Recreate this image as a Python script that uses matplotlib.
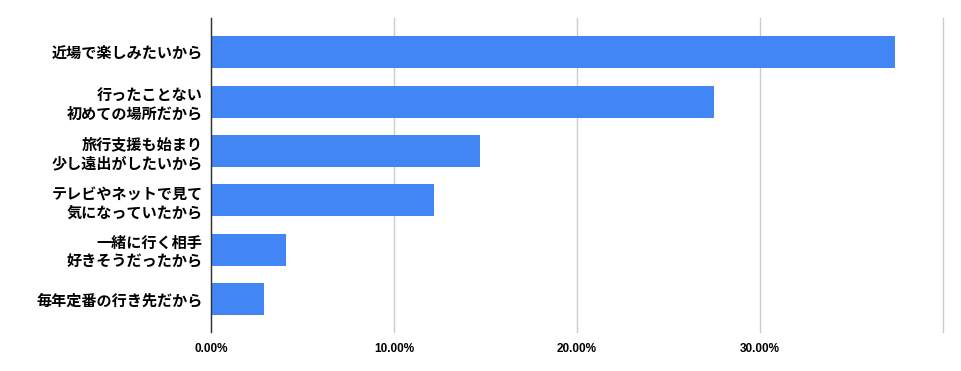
import matplotlib
matplotlib.use("Agg")
import matplotlib.pyplot as plt

categories = [
    "近場で楽しみたいから",
    "行ったことない\n初めての場所だから",
    "旅行支援も始まり\n少し遠出がしたいから",
    "テレビやネットで見て\n気になっていたから",
    "一緒に行く相手\n好きそうだったから",
    "毎年定番の行き先だから",
]
values = [37.4, 27.5, 14.7, 12.2, 4.1, 2.9]
xticks = [0, 10, 20, 30, 40]
xtick_labels = ["0.00%", "10.00%", "20.00%", "30.00%", ""]

W, H = 962, 371
fig = plt.figure(figsize=(W / 100, H / 100), dpi=100)
left, right, top, bottom = 211, 943, 18.3, 332
ax = fig.add_axes([left / W, 1 - bottom / H, (right - left) / W, (bottom - top) / H])

ypos = list(range(len(categories)))
ax.barh(ypos, values, height=0.65, color="#4285F4", zorder=3)
ax.set_ylim(5.67, -0.69)
ax.set_xlim(0, 40)

ax.set_xticks(xticks)
ax.set_xticklabels(xtick_labels, fontfamily=["Liberation Sans", "DejaVu Sans"],
                   fontweight="bold", fontsize=8.5)
ax.set_yticks(ypos)
ax.set_yticklabels(categories, fontfamily=["Noto Sans CJK JP", "DejaVu Sans"],
                   fontweight="bold", fontsize=10.9, linespacing=1.2)
ax.tick_params(axis="y", length=0, pad=6)
ax.tick_params(axis="x", length=0, pad=8)

ax.grid(axis="x", color="#cccccc", linewidth=1, zorder=0)
for gl in ax.get_xgridlines():
    gl.set_clip_on(False)
for s in ["top", "right", "bottom"]:
    ax.spines[s].set_visible(False)
ax.spines["left"].set_color("#333333")
ax.spines["left"].set_linewidth(1)
ax.spines["left"].set_zorder(4)

fig.savefig("out.png", dpi=100, facecolor="white")
